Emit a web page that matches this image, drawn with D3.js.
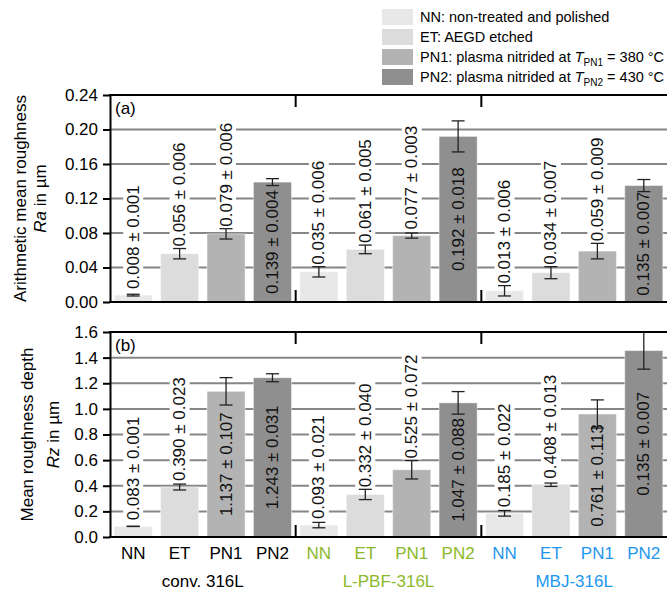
<!DOCTYPE html>
<html>
<head>
<meta charset="utf-8">
<script src="https://cdn.jsdelivr.net/npm/d3@7"></script>
<style>
  body { margin: 0; background: #fff; }
  svg { font-family: Arial, "Liberation Sans", sans-serif; }
</style>
</head>
<body>
<svg id="chart" width="667" height="592"></svg>
<script>
// materials and treatments, in drawing order
var groups = ['conv. 316L', 'L-PBF-316L', 'MBJ-316L'];
var treatments = ['NN', 'ET', 'PN1', 'PN2'];

// (a) arithmetic mean roughness Ra in µm
var raMean = [0.008, 0.056, 0.079, 0.139, 0.035, 0.061, 0.077, 0.192, 0.013, 0.034, 0.059, 0.135];
var raSd = [0.001, 0.006, 0.006, 0.004, 0.006, 0.005, 0.003, 0.018, 0.006, 0.007, 0.009, 0.007];
var raLabel = ['0.008 ± 0.001', '0.056 ± 0.006', '0.079 ± 0.006', '0.139 ± 0.004',
  '0.035 ± 0.006', '0.061 ± 0.005', '0.077 ± 0.003', '0.192 ± 0.018',
  '0.013 ± 0.006', '0.034 ± 0.007', '0.059 ± 0.009', '0.135 ± 0.007'];
var raTicks = [0, 0.04, 0.08, 0.12, 0.16, 0.20, 0.24];

// (b) mean roughness depth Rz in µm (bar heights as drawn, labels as printed)
var rzMean = [0.083, 0.390, 1.137, 1.243, 0.093, 0.332, 0.525, 1.047, 0.185, 0.408, 0.96, 1.455];
var rzSd = [0.001, 0.023, 0.107, 0.031, 0.021, 0.040, 0.072, 0.088, 0.022, 0.013, 0.11, 0.145];
var rzLabel = ['0.083 ± 0.001', '0.390 ± 0.023', '1.137 ± 0.107', '1.243 ± 0.031',
  '0.093 ± 0.021', '0.332 ± 0.040', '0.525 ± 0.072', '1.047 ± 0.088',
  '0.185 ± 0.022', '0.408 ± 0.013', '0.761 ± 0.113', '0.135 ± 0.007'];
var rzTicks = [0, 0.2, 0.4, 0.6, 0.8, 1.0, 1.2, 1.4, 1.6];

// styling
var fills = { NN: '#e8e8e8', ET: '#dcdcdc', PN1: '#b3b3b3', PN2: '#8f8f8f' };
var groupColors = ['#000000', '#8cb82b', '#1e96f0'];
var fontSize = 17;

var svg = d3.select('#chart');
var left = 110, right = 667;

// one entry per bar: group index + treatment
var bars = [];
groups.forEach(function (g, gi) {
  treatments.forEach(function (t) {
    bars.push({ group: gi, treatment: t, i: bars.length });
  });
});

var x = d3.scaleBand()
  .domain(d3.range(bars.length))
  .range([left, right])
  .paddingInner(0.18)
  .paddingOuter(0.09);
var groupWidth = (right - left) / groups.length;

function drawPanel(p) {
  var y = d3.scaleLinear().domain([p.ticks[0], p.ticks[p.ticks.length - 1]]).range([p.bottom, p.top]);
  var g = svg.append('g');

  // horizontal gridlines (not at zero, not at the frame)
  g.selectAll('.grid')
    .data(p.ticks.slice(1, -1))
    .enter().append('line')
    .attr('x1', left).attr('x2', right)
    .attr('y1', function (d) { return y(d); })
    .attr('y2', function (d) { return y(d); })
    .attr('stroke', '#868686')
    .attr('stroke-width', 2);

  // bars
  g.selectAll('.bar')
    .data(bars)
    .enter().append('rect')
    .attr('x', function (d) { return x(d.i); })
    .attr('y', function (d) { return y(p.mean[d.i]); })
    .attr('width', x.bandwidth())
    .attr('height', function (d) { return y(0) - y(p.mean[d.i]); })
    .attr('fill', function (d) { return fills[d.treatment]; })
    .attr('stroke', '#ffffff')
    .attr('stroke-opacity', 0.45)
    .attr('stroke-width', 1);

  // value labels: above the error bar if they fit, else centred in the bar
  var labels = g.selectAll('.val')
    .data(bars)
    .enter().append('text')
    .attr('font-size', fontSize)
    .attr('fill', '#111')
    .attr('dominant-baseline', 'central')
    .text(function (d) { return p.labels[d.i]; });

  labels.each(function (d) {
    var len = this.getComputedTextLength();
    var cx = x(d.i) + x.bandwidth() / 2;
    var yBar = y(p.mean[d.i]);
    var start = Math.min(y(p.mean[d.i] + p.sd[d.i]) - 2, yBar - 6);
    var inside = start - len < p.top + 2;
    var sel = d3.select(this);
    if (inside) {
      var mid = (yBar + y(0)) / 2;
      sel.attr('text-anchor', 'middle')
        .attr('transform', 'translate(' + cx + ',' + mid + ') rotate(-90)');
    } else {
      sel.attr('text-anchor', 'start')
        .attr('transform', 'translate(' + cx + ',' + start + ') rotate(-90)');
      // white box behind the label cuts the gridlines
      g.insert('rect', 'text')
        .attr('x', cx - 10)
        .attr('y', start - len - 2)
        .attr('width', 20)
        .attr('height', len + 3)
        .attr('fill', '#fff');
    }
  });

  // error bars
  var eb = g.selectAll('.err')
    .data(bars)
    .enter().append('g')
    .attr('stroke', '#222')
    .attr('stroke-width', 1.3);
  eb.append('line')
    .attr('x1', function (d) { return x(d.i) + x.bandwidth() / 2; })
    .attr('x2', function (d) { return x(d.i) + x.bandwidth() / 2; })
    .attr('y1', function (d) { return y(p.mean[d.i] - p.sd[d.i]); })
    .attr('y2', function (d) { return y(p.mean[d.i] + p.sd[d.i]); });
  [-1, 1].forEach(function (s) {
    eb.append('line')
      .attr('x1', function (d) { return x(d.i) + x.bandwidth() / 2 - 6.5; })
      .attr('x2', function (d) { return x(d.i) + x.bandwidth() / 2 + 6.5; })
      .attr('y1', function (d) { return y(p.mean[d.i] + s * p.sd[d.i]); })
      .attr('y2', function (d) { return y(p.mean[d.i] + s * p.sd[d.i]); });
  });

  // keep label text above its white box and the error bars
  labels.raise();

  // left axis
  var axis = g.append('g')
    .attr('transform', 'translate(' + left + ',0)')
    .call(d3.axisLeft(y).tickValues(p.ticks).tickFormat(p.fmt).tickSize(7).tickSizeOuter(0).tickPadding(5));
  axis.select('.domain').attr('stroke', '#000').attr('stroke-width', 2);
  axis.selectAll('.tick line').attr('stroke', '#000').attr('stroke-width', 2);
  axis.selectAll('.tick text')
    .attr('font-size', fontSize)
    .attr('font-family', 'Arial, "Liberation Sans", sans-serif')
    .attr('fill', '#000');

  // frame: top and bottom
  g.append('line')
    .attr('x1', left - 1).attr('x2', right)
    .attr('y1', p.top).attr('y2', p.top)
    .attr('stroke', '#000').attr('stroke-width', 2);
  g.append('line')
    .attr('x1', left - 1).attr('x2', right)
    .attr('y1', p.bottom).attr('y2', p.bottom)
    .attr('stroke', '#000').attr('stroke-width', 2);

  // short separator ticks between the material groups
  d3.range(1, groups.length).forEach(function (k) {
    var sx = left + k * groupWidth;
    [[p.top, p.top + 12], [p.bottom - 12, p.bottom]].forEach(function (seg) {
      g.append('line')
        .attr('x1', sx).attr('x2', sx)
        .attr('y1', seg[0]).attr('y2', seg[1])
        .attr('stroke', '#000').attr('stroke-width', 2);
    });
  });

  // panel tag
  g.append('text')
    .attr('x', left + 5)
    .attr('y', p.top + 19)
    .attr('font-size', fontSize)
    .text(p.tag);

  // y title (two lines, second starts with an italic symbol)
  var cy = (p.top + p.bottom) / 2;
  g.append('text')
    .attr('transform', 'translate(' + p.titleX[0] + ',' + cy + ') rotate(-90)')
    .attr('text-anchor', 'middle')
    .attr('font-size', fontSize)
    .text(p.title);
  var t2 = g.append('text')
    .attr('transform', 'translate(' + p.titleX[1] + ',' + cy + ') rotate(-90)')
    .attr('text-anchor', 'middle')
    .attr('font-size', fontSize);
  t2.append('tspan').attr('font-style', 'italic').text(p.symbol);
  t2.append('tspan').text(' in µm');
}

drawPanel({
  top: 95, bottom: 302,
  mean: raMean, sd: raSd, labels: raLabel,
  ticks: raTicks, fmt: d3.format('.2f'),
  tag: '(a)', title: 'Arithmetic mean roughness', symbol: 'Ra',
  titleX: [25.5, 45.5]
});

drawPanel({
  top: 332, bottom: 537,
  mean: rzMean, sd: rzSd, labels: rzLabel,
  ticks: rzTicks, fmt: d3.format('.1f'),
  tag: '(b)', title: 'Mean roughness depth', symbol: 'Rz',
  titleX: [32.5, 59]
});

// x labels: treatment per bar, material per group
svg.append('g').selectAll('text')
  .data(bars)
  .enter().append('text')
  .attr('x', function (d) { return x(d.i) + x.bandwidth() / 2; })
  .attr('y', 559)
  .attr('text-anchor', 'middle')
  .attr('font-size', fontSize)
  .attr('fill', function (d) { return groupColors[d.group]; })
  .text(function (d) { return d.treatment; });

svg.append('g').selectAll('text')
  .data(groups)
  .enter().append('text')
  .attr('x', function (d, i) { return left + (i + 0.5) * groupWidth; })
  .attr('y', 587)
  .attr('text-anchor', 'middle')
  .attr('font-size', fontSize)
  .attr('fill', function (d, i) { return groupColors[i]; })
  .text(function (d) { return d; });

// legend
var legendItems = [
  { key: 'NN', parts: [['NN: non-treated and polished']] },
  { key: 'ET', parts: [['ET: AEGD etched']] },
  { key: 'PN1', parts: [['PN1: plasma nitrided at '], ['T', 'i'], ['PN1', 's'], [' = 380 °C']] },
  { key: 'PN2', parts: [['PN2: plasma nitrided at '], ['T', 'i'], ['PN2', 's'], [' = 430 °C']] }
];
var legend = svg.append('g').attr('transform', 'translate(382,9)');
var rows = legend.selectAll('g')
  .data(legendItems)
  .enter().append('g')
  .attr('transform', function (d, i) { return 'translate(0,' + i * 20 + ')'; });
rows.append('rect')
  .attr('width', 31).attr('height', 16)
  .attr('fill', function (d) { return fills[d.key]; });
rows.append('text')
  .attr('x', 38)
  .attr('y', 13)
  .attr('font-size', 14.5)
  .each(function (d) {
    var t = d3.select(this);
    var sub = false;
    d.parts.forEach(function (part) {
      var ts = t.append('tspan').text(part[0]);
      if (part[1] === 'i') ts.attr('font-style', 'italic');
      if (part[1] === 's') { ts.attr('font-size', 10).attr('dy', 4); sub = true; }
      else if (sub) { ts.attr('dy', -4); sub = false; }
    });
  });
</script>
</body>
</html>
